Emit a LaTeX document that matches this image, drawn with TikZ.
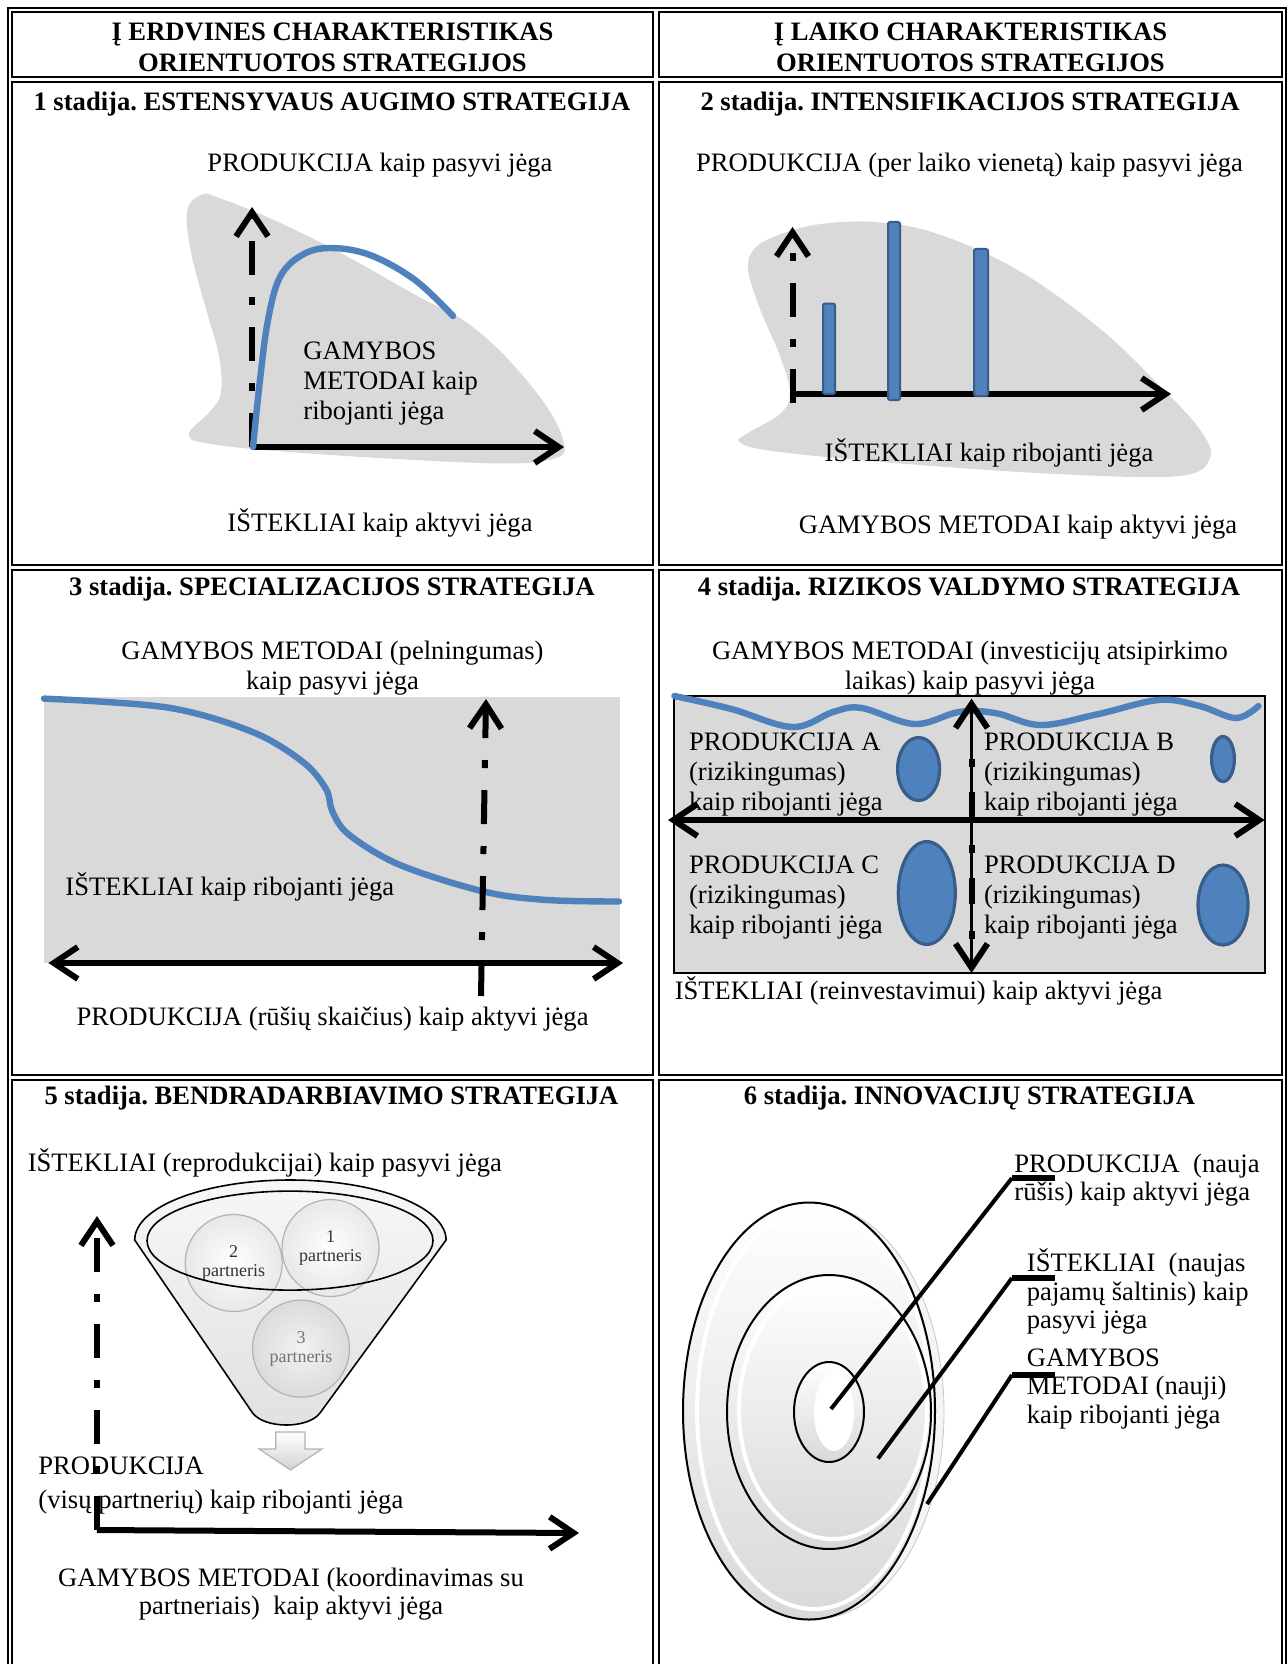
\documentclass[tikz,border=0pt]{standalone}
\usepackage{fontspec}
\setmainfont{Liberation Serif}
\usetikzlibrary{arrows.meta, positioning, shapes.geometric}
\definecolor{curveblue}{HTML}{4F81BD}
\definecolor{edgeblue}{HTML}{385D8A}
\definecolor{blobgray}{HTML}{D9D9D9}
\frenchspacing

\begin{document}
\begin{tikzpicture}[x=0.5pt, y=-0.5pt,
  txt/.style={font=\fontsize{13.3}{15}\selectfont, inner sep=0pt, align=center},
  tight/.style={txt, font=\fontsize{13.3}{14.2}\selectfont},
  ttl/.style={txt, font=\fontsize{13.3}{15.8}\selectfont\bfseries},
  small/.style={txt, font=\fontsize{9}{9.5}\selectfont},
  cell/.style={draw, line width=0.9pt},
  blob/.style={fill=blobgray, draw=none},
  curve/.style={draw=curveblue, line width=3.2pt, line cap=round},
  axis/.style={line width=3pt, -{Straight Barb[length=12pt, width=16pt]}},
  biaxis/.style={line width=3pt, {Straight Barb[length=12pt, width=16pt]}-{Straight Barb[length=12pt, width=16pt]}},
  dotdash/.style={dash pattern=on 17pt off 11pt on 4pt off 11pt},
  bar/.style={fill=curveblue, draw=edgeblue, line width=1pt, rounded corners=1pt},
  risk/.style={ellipse, fill=curveblue, draw=edgeblue, line width=1.6pt, inner sep=0pt},
  partner/.style={circle, draw=gray!60, line width=0.6pt, minimum size=48.5pt, small,
                  shading=radial, inner color=white, outer color=gray!18},
  disc/.style={draw, line width=1pt, top color=white, bottom color=gray!30},
  lead/.style={line width=2pt},
  stub/.style={line width=3pt},
]
  \useasboundingbox (0,0) rectangle (1288,1664);

  % table frame
  \draw[cell] (8,1664) -- (8,8) -- (1286,8) -- (1286,1664);
  \foreach \xa/\xb in {12/653, 659/1282} {
    \draw[cell] (\xa,12) rectangle (\xb,77);
    \draw[cell] (\xa,82) rectangle (\xb,565);
    \draw[cell] (\xa,570) rectangle (\xb,1075);
    \draw[cell] (\xa,1664) -- (\xa,1080) -- (\xb,1080) -- (\xb,1664);
  }

  \node[ttl] (hleft) at (332.5,47.5) {Į ERDVINES CHARAKTERISTIKAS\\ORIENTUOTOS STRATEGIJOS};
  \node[ttl] (hright) at (970.5,47.5) {Į LAIKO CHARAKTERISTIKAS\\ORIENTUOTOS STRATEGIJOS};

  \node[ttl] (s1) at (332,104) {1 stadija. ESTENSYVAUS AUGIMO STRATEGIJA};
  \node[ttl] (s2) at (970,104) {2 stadija. INTENSIFIKACIJOS STRATEGIJA};
  \node[ttl] (s3) at (332,589) {3 stadija. SPECIALIZACIJOS STRATEGIJA};
  \node[ttl] (s4) at (969,589) {4 stadija. RIZIKOS VALDYMO STRATEGIJA};
  \node[ttl] (s5) at (331.5,1098) {5 stadija. BENDRADARBIAVIMO STRATEGIJA};
  \node[ttl] (s6) at (969.5,1098) {6 stadija. INNOVACIJŲ STRATEGIJA};

  % 1 stadija
  \fill[blob] plot[smooth cycle, tension=0.6] coordinates {(202,194.5) (187,211) (191.5,254.5)
    (206,309) (219,356) (221,392.6) (210.5,411) (191.5,429) (189.5,436) (198,441.6) (252.6,449)
    (379,458) (505,463.5) (556,458) (564,443.5) (547,407) (505,356) (463,320) (421,298)
    (337,251) (269.4,218) (219,198)};
  \coordinate (o1) at (252,447);
  \coordinate (y1) at (252,207);
  \coordinate (x1) at (564,447);
  \draw[axis, dotdash] (o1) -- (y1);
  \draw[axis] (o1) -- (x1);
  \draw[curve] plot[smooth, tension=0.6] coordinates {(253,447) (260,380) (268,320)
    (280,277) (302,255) (330,248) (370,255) (415,280) (453,316)};
  \node[txt] (p1top) at (380,165) {PRODUKCIJA kaip pasyvi jėga};
  \node[txt, align=left, anchor=west] (p1mid) at (303,383.5) {GAMYBOS\\METODAI kaip\\ribojanti jėga};
  \node[txt] (p1bot) at (380,523) {IŠTEKLIAI kaip aktyvi jėga};

  % 2 stadija
  \fill[blob] plot[smooth cycle, tension=0.6] coordinates {(784,233) (756,247) (748,269)
    (760,309) (780,356) (790,393) (780,414) (748,433) (739.5,442) (772,451) (894,463)
    (1057,474) (1179,476) (1210,458) (1199.5,429) (1159,385) (1098,327) (1016,269)
    (935,233) (874,222) (821,224)};
  \coordinate (o2) at (792.5,403);
  \coordinate (y2) at (792.5,227);
  \coordinate (x0) at (790,394);
  \coordinate (x2) at (1171,394);
  \draw[axis, dotdash] (o2) -- (y2);
  \draw[axis] (x0) -- (x2);
  \draw[bar] (823,303.5) rectangle (835,394);
  \draw[bar] (888,222) rectangle (900,400);
  \draw[bar] (974,249) rectangle (988,396);
  \node[txt] (p2top) at (969.5,165) {PRODUKCIJA (per laiko vienetą) kaip pasyvi jėga};
  \node[txt] (p2mid) at (989,452.5) {IŠTEKLIAI kaip ribojanti jėga};
  \node[txt] (p2bot) at (1018,527) {GAMYBOS METODAI kaip aktyvi jėga};

  % 3 stadija
  \fill[blob] (44,697) rectangle (620,963);
  \draw[curve] plot[smooth, tension=0.55] coordinates {(44,698.6) (168,707.6) (252.6,732)
    (303,762) (326,789) (332.6,812) (349.4,835) (400,865) (484,891.6) (547,900) (619,901.5)};
  \coordinate (o3) at (481,996);
  \coordinate (y3) at (486,699);
  \coordinate (l3) at (48.4,963);
  \coordinate (r3) at (623,963);
  \draw[axis, dotdash] (o3) -- (y3);
  \draw[biaxis] (l3) -- (r3);
  \node[txt] (p3top) at (332.5,668) {GAMYBOS METODAI (pelningumas)\\kaip pasyvi jėga};
  \node[txt, anchor=west] (p3mid) at (65,886.6) {IŠTEKLIAI kaip ribojanti jėga};
  \node[txt] (p3bot) at (332.6,1019) {PRODUKCIJA (rūšių skaičius) kaip aktyvi jėga};

  % 4 stadija
  \draw[fill=blobgray, line width=1pt] (674.4,696) rectangle (1264.6,973);
  \draw[curve] plot[smooth, tension=0.6] coordinates {(674.4,696) (731.4,709) (792.5,727)
    (833,712) (861.6,708) (914.6,724) (959.3,711.9) (996,713.2) (1040.7,725)
    (1097.7,714.2) (1158.8,700) (1199.5,706) (1236,718) (1258.5,706)};
  \node[txt, align=left, anchor=west] (pa) at (688.7,775) {PRODUKCIJA A\\(rizikingumas)\\kaip ribojanti jėga};
  \node[txt, align=left, anchor=west] (pb) at (983.7,775) {PRODUKCIJA B\\(rizikingumas)\\kaip ribojanti jėga};
  \node[txt, align=left, anchor=west] (pc) at (688.7,897.5) {PRODUKCIJA C\\(rizikingumas)\\kaip ribojanti jėga};
  \node[txt, align=left, anchor=west] (pd) at (983.7,897.5) {PRODUKCIJA D\\(rizikingumas)\\kaip ribojanti jėga};
  \node[risk, minimum width=21pt, minimum height=31.5pt] (ra) at (918.6,769) {};
  \node[risk, minimum width=11.4pt, minimum height=22.5pt] (rb) at (1223,759) {};
  \node[risk, minimum width=28.5pt, minimum height=51.4pt] (rc) at (926.8,893) {};
  \node[risk, minimum width=25pt, minimum height=40pt] (rd) at (1223,905) {};
  \coordinate (v4t) at (971.5,698.6);
  \coordinate (v4b) at (971.5,973);
  \coordinate (d4t) at (971.5,759);
  \coordinate (d4b) at (971.5,941);
  \coordinate (h4l) at (668,820);
  \coordinate (h4r) at (1264.6,820);
  \draw[line width=1.2pt, {Straight Barb[length=12pt, width=16pt, line width=3pt]}-{Straight Barb[length=12pt, width=16pt, line width=3pt]}] (v4b) -- (v4t);
  \draw[line width=3pt, dash pattern=on 4pt off 12.5pt on 13pt off 13.5pt] (d4t) -- (d4b);
  \draw[biaxis] (h4l) -- (h4r);
  \node[txt] (p4top) at (970,668) {GAMYBOS METODAI (investicijų atsipirkimo\\laikas) kaip pasyvi jėga};
  \node[txt, anchor=west] (p4bot) at (674.4,991) {IŠTEKLIAI (reinvestavimui) kaip aktyvi jėga};

  % 5 stadija
  \node[txt, anchor=west] (p5top) at (27.4,1163) {IŠTEKLIAI (reprodukcijai) kaip pasyvi jėga};
  \draw[line width=0.8pt, top color=gray!6, bottom color=gray!24]
    (134.7,1240) arc[start angle=180, end angle=360, x radius=155.7, y radius=60]
    -- (320,1413) .. controls (308,1429) and (265,1429) .. (252.6,1413) -- cycle;
  \node[partner, inner color=gray!10, outer color=gray!28, text=black!55] (pt3) at (301,1348.6) {3\\partneris};
  \node[partner, text=black!80] (pt2) at (233.7,1263) {2\\partneris};
  \node[partner, text=black!80] (pt1) at (330.5,1248) {1\\partneris};
  \draw[line width=0.8pt] (290,1240.6) ellipse [x radius=143, y radius=49.5];
  \draw[draw=gray!60, line width=0.6pt, top color=white, bottom color=gray!35]
    (275.8,1432) -- (305,1432) -- (305,1449) -- (322,1449) -- (290.5,1470)
    -- (259,1449) -- (275.8,1449) -- cycle;
  \node[txt, anchor=west] (prod) at (38,1466) {PRODUKCIJA};
  \node[txt, anchor=west] (prod2) at (38,1502) {(visų partnerių) kaip ribojanti jėga};
  \coordinate (o5) at (97,1530);
  \coordinate (y5) at (97,1216);
  \coordinate (x5) at (579,1533);
  \draw[axis, dotdash] (o5) -- (y5);
  \draw[axis] (o5) -- (x5);
  \node[tight] (p5bot) at (291,1594) {GAMYBOS METODAI (koordinavimas su\\partneriais)\ \ kaip aktyvi jėga};

  % 6 stadija
  \draw[draw=gray!45, fill=gray!8] (815,1412) ellipse [x radius=129, y radius=207];
  \draw[disc] (809,1411) ellipse [x radius=126, y radius=208.5];
  \draw[white, line width=2pt] (814,1410) ellipse [x radius=117, y radius=199];
  \draw[disc] (829,1412) ellipse [x radius=102, y radius=137];
  \draw[white, line width=2pt] (833,1410) ellipse [x radius=94, y radius=129];
  \draw[disc] (829,1412) ellipse [x radius=35, y radius=50];
  \fill[white] (834,1412) ellipse [x radius=20, y radius=39];
  \foreach \i/\cx/\cy/\ky in {1/831/1409/1178, 2/878/1458.5/1278, 3/927/1504/1375} {
    \coordinate (c\i) at (\cx,\cy);
    \coordinate (k\i) at (1012,\ky);
    \coordinate (e\i) at (1055,\ky);
    \draw[lead] (c\i) -- (k\i);
    \draw[stub] (k\i) -- (e\i);
  }
  \node[tight, align=left, anchor=west] (q1) at (1014,1180) {PRODUKCIJA\ \ (nauja\\rūšis) kaip aktyvi jėga};
  \node[tight, align=left, anchor=west] (q2) at (1026.5,1291.5) {IŠTEKLIAI\ \ (naujas\\pajamų šaltinis) kaip\\pasyvi jėga};
  \node[tight, align=left, anchor=west] (q3) at (1026.5,1389) {GAMYBOS\\METODAI (nauji)\\kaip ribojanti jėga};
\end{tikzpicture}
\end{document}
